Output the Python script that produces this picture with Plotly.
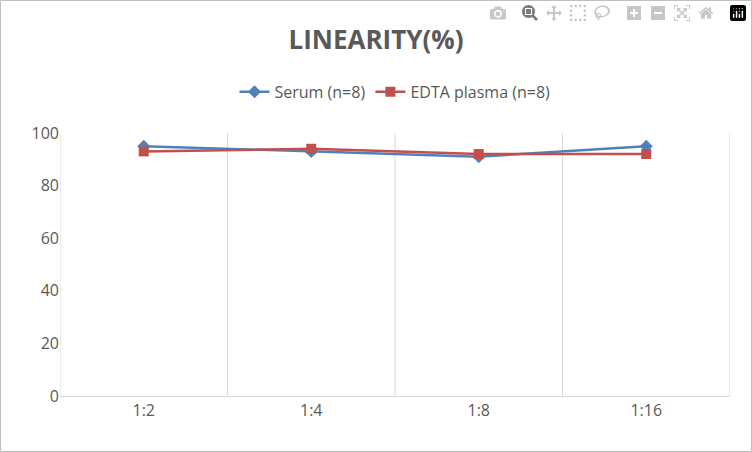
import plotly.graph_objects as go

categories = ["1:2", "1:4", "1:8", "1:16"]
serum = [95, 93, 91, 95]
edta = [93, 94, 92, 92]
yticks = [0, 20, 40, 60, 80, 100]

xs = list(range(len(categories)))
fig = go.Figure()
fig.add_trace(go.Scatter(x=xs, y=serum, name="Serum (n=8)", mode="lines+markers",
                         line=dict(color="#4F81BD", width=2.5),
                         marker=dict(symbol="diamond", size=10, color="#4F81BD")))
fig.add_trace(go.Scatter(x=xs, y=edta, name="EDTA plasma (n=8)", mode="lines+markers",
                         line=dict(color="#C0504D", width=2.5),
                         marker=dict(symbol="square", size=10, color="#C0504D")))
for gx in [-0.5, 0.5, 1.5, 2.5, 3.5]:
    fig.add_shape(type="line", xref="x", yref="paper", x0=gx, x1=gx, y0=0, y1=1,
                  line=dict(color="#D9D9D9", width=1), layer="below")
fig.add_shape(type="rect", xref="paper", yref="paper", x0=-59.5/670, x1=1+21.5/670,
              y0=-55.5/263, y1=1+132.5/263, line=dict(color="#BFBFBF", width=1))
fig.update_layout(
    width=752, height=452, margin=dict(l=60, r=22, t=133, b=56),
    paper_bgcolor="white", plot_bgcolor="white",
    font=dict(family="Open Sans, DejaVu Sans", color="#595959", size=16),
    title=dict(text="<b>LINEARITY(%)</b>", x=0.5, xanchor="center", y=0.912,
               yanchor="middle", font=dict(size=26, color="#595959")),
    legend=dict(orientation="h", x=0.5, xanchor="center", y=1.156, yanchor="middle",
                font=dict(size=16, color="#595959")),
    xaxis=dict(range=[-0.5, 3.5], tickvals=xs, ticktext=categories, showgrid=False,
               zeroline=False, showline=True, linecolor="#D9D9D9", ticks=""),
    yaxis=dict(range=[0, 100], tickvals=yticks, showgrid=False, zeroline=False,
               showline=False, ticks=""),
)
fig.write_html("out.html", post_script="document.body.style.margin='0';")
